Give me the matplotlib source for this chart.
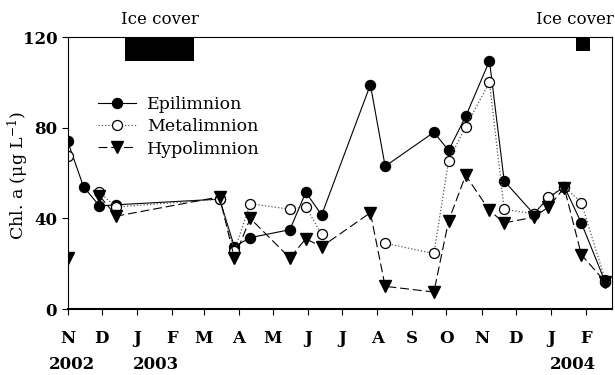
import numpy as np
import matplotlib
matplotlib.use('Agg')
import matplotlib.pyplot as plt
import matplotlib.dates as mdates
import matplotlib.transforms as mtransforms

plt.rcParams['font.family'] = ['DejaVu Serif']
plt.rcParams['mathtext.fontset'] = 'dejavuserif'

# sampling dates
dates = np.array(['2002-11-01', '2002-11-15', '2002-11-29', '2002-12-14',
                  '2003-03-15', '2003-03-28', '2003-04-11', '2003-05-16',
                  '2003-05-30', '2003-06-13', '2003-07-26', '2003-08-08',
                  '2003-09-20', '2003-10-03', '2003-10-18', '2003-11-08',
                  '2003-11-21', '2003-12-17', '2003-12-30', '2004-01-13',
                  '2004-01-28', '2004-02-18'], dtype='datetime64[D]')

# chlorophyll a, ug/L (nan = no sample)
epi = [74, 54, 45.5, 46, 48.5, 27.5, 31.5, 35, 51.5, 41.5, 99, 63,
       78, 70, 85, 109.5, 56.5, 42, 49, 54, 38, 12]
meta = [67.5, np.nan, 51.5, 45, 48.5, 25.5, 46.5, 44, 45, 33, np.nan, 29,
        24.5, 65.5, 80.5, 100, 44, 42, 49.5, 54, 47, 13]
hypo = [22.5, np.nan, 50, 41, 49.5, 22.5, 40, 22.5, 31, 27.5, 42.5, 10,
        7.5, 39, 59, 43.5, 38, 40.5, 45, 53.5, 24, 12]

# ice cover periods
ice_start = np.array(['2002-12-22', '2004-01-23'], dtype='datetime64[D]')
ice_end = np.array(['2003-02-20', '2004-02-05'], dtype='datetime64[D]')
ice_height = [10.5, 6.2]
ice_label_x = np.array(['2003-01-21', '2004-01-22'], dtype='datetime64[D]')

years = ['2002', '2003', '2004']
year_x = np.array(['2002-11-05', '2003-01-18', '2004-01-21'], dtype='datetime64[D]')

fig = plt.figure(figsize=(6.15, 3.75), dpi=100)
ax = fig.add_axes([0.110, 0.176, 0.885, 0.725])

ax.plot(dates, epi, '-', color='black', lw=0.8, marker='o', ms=7.2,
        mfc='black', mec='black', label='Epilimnion')
ax.plot(dates, meta, ':', color='#555555', lw=0.9, marker='o', ms=7.2,
        mfc='white', mec='black', mew=0.9, label='Metalimnion')
ax.plot(dates, hypo, color='black', lw=0.8, dashes=(8, 3.5), marker='v', ms=8,
        mfc='black', mec='black', label='Hypolimnion')

for s, e, h, lx in zip(ice_start, ice_end, ice_height, ice_label_x):
    x0 = mdates.date2num(s)
    ax.broken_barh([(x0, mdates.date2num(e) - x0)], (120 - h, h),
                   facecolors='black')
    ax.text(lx, 1.035, 'Ice cover', transform=ax.get_xaxis_transform(),
            ha='center', va='bottom', fontsize=12, clip_on=False)

ax.set_xlim(np.datetime64('2002-11-01'), np.datetime64('2004-02-24'))
ax.set_ylim(0, 120)
ax.set_yticks([0, 40, 80, 120])
ax.xaxis.set_major_locator(mdates.MonthLocator())
ax.xaxis.set_major_formatter(plt.FuncFormatter(
    lambda v, pos: mdates.num2date(v).strftime('%b')[0]))

ax.tick_params(direction='out', length=4, width=0.8, labelsize=12)
ax.tick_params(axis='x', pad=11)
for lab in ax.get_xticklabels() + ax.get_yticklabels():
    lab.set_fontweight('bold')
for side in ['left', 'top', 'right']:
    ax.spines[side].set_linewidth(0.8)
ax.spines['bottom'].set_linewidth(1.5)

tr = mtransforms.blended_transform_factory(ax.transData, fig.transFigure)
for yr, yx in zip(years, year_x):
    ax.text(yx, 0.005, yr, transform=tr, ha='center', va='bottom',
            fontsize=12, fontweight='bold')

ax.set_ylabel('Chl. a (μg L$^{-1}$)', fontsize=12.5)
ax.yaxis.set_label_coords(-0.068, 0.49)

ax.legend(loc='upper left', bbox_to_anchor=(0.04, 0.815), frameon=False,
          fontsize=12.5, handlelength=2.2, handletextpad=0.6,
          labelspacing=0.3, borderpad=0)

fig.savefig('out.png', dpi=100)
